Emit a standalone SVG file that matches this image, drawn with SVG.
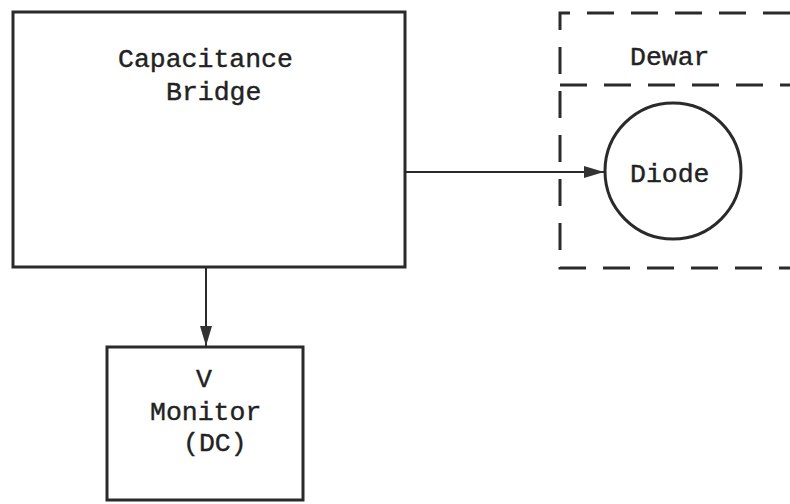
<svg xmlns="http://www.w3.org/2000/svg" width="790" height="504" viewBox="0 0 790 504">
<style>
.box{fill:none;stroke:#2a2a2a;stroke-width:3}
.dash{fill:none;stroke:#2a2a2a;stroke-width:3;stroke-dasharray:27 17}
.t{font-family:"Liberation Mono","Courier New",monospace;font-size:26.5px;fill:#222;stroke:#222;stroke-width:0.4}
.c{fill:none;stroke:#2a2a2a;stroke-width:2}
</style>
<defs>
<marker id="ah2" viewBox="0 0 20 14" refX="20" refY="7" markerWidth="20" markerHeight="14" markerUnits="userSpaceOnUse" orient="auto">
<path d="M0,1 L20,7 L0,13 Z" fill="#333"/>
</marker>
</defs>
<rect width="790" height="504" fill="#fff"/>
<g id="bridge">
<rect class="box" x="13" y="12" width="392" height="255"/>
<text class="t" x="118" y="67">Capacitance</text>
<text class="t" x="166" y="100">Bridge</text>
</g>
<g id="dewar">
<path class="dash" d="M790,13 L560,13 L560,268 L790,268"/>
<path class="dash" d="M560,85 L790,85"/>
<text class="t" x="630" y="65">Dewar</text>
</g>
<g id="diode">
<circle class="box" cx="673" cy="171" r="68"/>
<text class="t" x="630" y="182">Diode</text>
</g>
<g id="monitor">
<rect class="box" x="107" y="347" width="196" height="153"/>
<text class="t" x="196" y="387">V</text>
<text class="t" x="150" y="420">Monitor</text>
<text class="t" x="183" y="451">(DC)</text>
</g>
<g id="connectors">
<line class="c" x1="405" y1="172" x2="604" y2="172" marker-end="url(#ah2)"/>
<line class="c" x1="206" y1="267" x2="206" y2="346" marker-end="url(#ah2)"/>
</g>
</svg>
